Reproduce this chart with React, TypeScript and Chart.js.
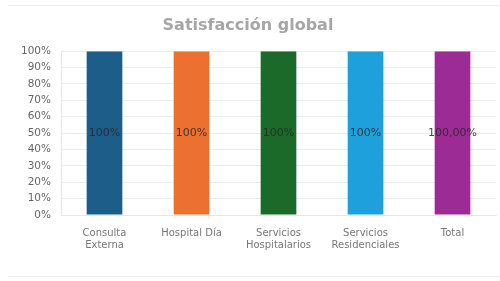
import React, { useEffect, useRef } from "react";
import { Chart, registerables } from "chart.js";

Chart.register(...registerables);

const categories: (string | string[])[] = [
  ["Consulta", "Externa"],
  "Hospital Día",
  ["Servicios", "Hospitalarios"],
  ["Servicios", "Residenciales"],
  "Total",
];
const values = [100, 100, 100, 100, 100];
const valueLabels = ["100%", "100%", "100%", "100%", "100,00%"];
const barColors = ["#1c5d8a", "#ec7030", "#1b6a2a", "#1ea0dc", "#9c2b95"];
const title = "Satisfacción global";

const FONT = "'DejaVu Sans', sans-serif";

const labelPlugin = {
  id: "barLabels",
  afterDatasetsDraw(chart: any) {
    const ctx = chart.ctx;
    const meta = chart.getDatasetMeta(0);
    ctx.save();
    ctx.font = "11px " + FONT;
    ctx.fillStyle = "rgba(40,40,40,0.85)";
    ctx.textAlign = "center";
    ctx.textBaseline = "middle";
    meta.data.forEach((bar: any, i: number) => {
      const y = (bar.y + bar.base) / 2;
      ctx.fillText(valueLabels[i], bar.x, y);
    });
    ctx.restore();
  },
};

const borderPlugin = {
  id: "cardBorder",
  beforeDraw(chart: any) {
    const ctx = chart.ctx;
    ctx.save();
    ctx.fillStyle = "#ffffff";
    ctx.fillRect(0, 0, chart.width, chart.height);
    ctx.strokeStyle = "#eeeeee";
    ctx.lineWidth = 1;
    ctx.beginPath();
    ctx.moveTo(8, 5.5);
    ctx.lineTo(chart.width, 5.5);
    ctx.moveTo(8, 276.5);
    ctx.lineTo(chart.width, 276.5);
    ctx.stroke();
    ctx.restore();
  },
};

export default function App() {
  const ref = useRef<HTMLCanvasElement>(null);
  useEffect(() => {
    if (!ref.current) return;
    const chart = new Chart(ref.current, {
      type: "bar",
      data: {
        labels: categories,
        datasets: [
          {
            data: values,
            backgroundColor: barColors,
            borderColor: barColors,
            borderWidth: 0,
            barPercentage: 0.82,
            categoryPercentage: 0.5,
          },
        ],
      },
      options: {
        animation: false,
        responsive: false,
        maintainAspectRatio: false,
        layout: { padding: { top: 16, left: 0, right: 4, bottom: 18 } },
        plugins: {
          legend: { display: false },
          tooltip: { enabled: false },
          title: {
            display: true,
            text: title,
            color: "#a6a6a6",
            font: { family: FONT, size: 16, weight: "bold" },
            padding: { top: 0, bottom: 16 },
          },
        },
        scales: {
          x: {
            grid: { display: false, drawTicks: false },
            border: { display: true, color: "#e6e6e6" },
            ticks: {
              color: "#777777",
              font: { family: FONT, size: 10, lineHeight: 1.2 },
              maxRotation: 0,
              autoSkip: false,
              padding: 12,
            },
          },
          y: {
            min: 0,
            max: 100,
            grid: { color: "#ececec", drawTicks: false },
            border: { display: true, color: "#e6e6e6" },
            afterFit: (scale: any) => {
              scale.width = 61;
            },
            ticks: {
              stepSize: 10,
              color: "#666666",
              font: { family: FONT, size: 10.5 },
              padding: 10,
              callback: (v: any) => v + "%",
            },
          },
        },
      },
      plugins: [borderPlugin, labelPlugin],
    });
    return () => chart.destroy();
  }, []);
  return (
    <div style={{ position: "fixed", left: 0, top: 0, width: 500, height: 281, background: "#fff" }}>
      <canvas ref={ref} width={500} height={281} style={{ width: 500, height: 281 }} />
    </div>
  );
}
